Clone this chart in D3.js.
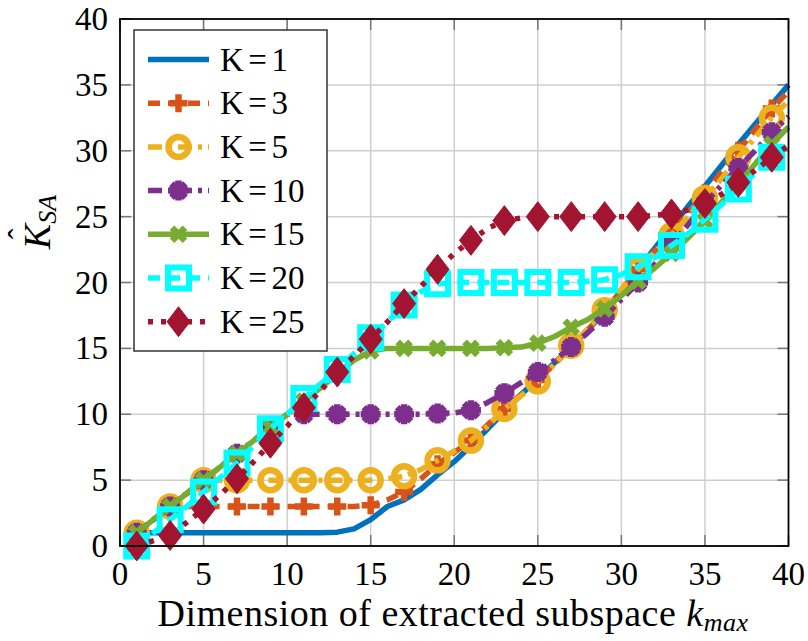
<!DOCTYPE html>
<html>
<head>
<meta charset="utf-8">
<script src="https://cdn.jsdelivr.net/npm/d3@7"></script>
</head>
<body style="margin:0">
<div id="chart"></div>
<script>
// data
const kmax = [1,2,3,4,5,6,7,8,9,10,11,12,13,14,15,16,17,18,19,20,
              21,22,23,24,25,26,27,28,29,30,31,32,33,34,35,36,37,38,39,40];

const k1  = [1,1,1,1,1,1,1,1,1,1,1,1,1.05,1.3,2.0,3.0,3.5,4.3,5.4,6.4,
             7.6,8.9,10.2,11.5,12.7,13.9,15.1,16.4,17.8,19.4,21.0,22.6,24.2,25.8,27.3,28.9,30.5,32.0,33.5,35.0];
const k3  = [1,2,3,3,3,3,3,3,3,3,3,3,3,3,3.1,3.5,4.1,5.1,6.2,7.1,
             8.0,9.2,10.4,11.5,12.6,13.8,15.1,16.4,17.8,19.4,21.0,22.4,23.8,25.3,26.8,28.4,30.0,31.6,33.2,34.5];
const k5  = [1,2,3,4,5,5,5,5,5,5,5,5,5,5,5,5.1,5.3,5.8,6.5,7.2,
             8.0,9.1,10.4,11.4,12.5,13.8,15.2,16.5,17.9,19.5,21.0,22.3,23.6,25.0,26.4,27.9,29.5,31.0,32.5,33.8];
const k10 = [1,2,3,4,5,6,7,8,9,10,10,10,10,10,10,10,10,10,10.05,10.1,
             10.3,10.9,11.6,12.4,13.2,14.1,15.1,16.2,17.4,18.7,20.0,21.4,22.9,24.4,26.0,27.4,28.7,30.0,31.4,32.6];
const k15 = [1,2,3,4,5,6,7,8,9,10,11,12,13.1,14.1,14.8,15,15,15,15,15,
             15,15,15.05,15.1,15.4,15.9,16.6,17.2,18.0,19.0,20.1,21.1,22.2,23.4,24.7,26.1,27.5,29.0,30.5,31.8];
const k20 = [0,1,2,3,4.1,5.2,6.3,7.6,8.9,10.0,11.2,12.3,13.4,14.6,15.8,17.0,18.3,19.3,19.9,20,
             20,20,20,20,20,20,20,20.1,20.2,20.6,21.2,21.9,22.8,23.7,24.8,25.9,27.1,28.3,29.5,30.7];
const k25 = [0,0.4,0.8,1.8,2.8,3.9,5.1,6.4,7.8,9.1,10.5,11.8,13.2,14.4,15.7,17.0,18.4,19.7,21.0,22.2,
             23.2,24.1,24.7,24.9,25,25,25,25,25,25,25,25.1,25.2,25.5,26.0,26.7,27.6,28.5,29.5,30.4];

const kValues = [1,3,5,10,15,20,25];   // legend labels read "K=<value>"
const xTicks = [0,5,10,15,20,25,30,35,40];
const yTicks = [0,5,10,15,20,25,30,35,40];

const series = [
  { k: kValues[0], values: k1,  color: "#0072BD", dash: null,          marker: "none" },
  { k: kValues[1], values: k3,  color: "#D95319", dash: "12,8",        marker: "plus" },
  { k: kValues[2], values: k5,  color: "#EDB120", dash: "14,6,4,6",    marker: "circle" },
  { k: kValues[3], values: k10, color: "#7E2F8E", dash: "14,6,4,6",    marker: "star" },
  { k: kValues[4], values: k15, color: "#77AC30", dash: null,          marker: "cross" },
  { k: kValues[5], values: k20, color: "#00FFFF", dash: "12,8",        marker: "square" },
  { k: kValues[6], values: k25, color: "#A2142F", dash: "5,8",         marker: "diamond" }
];

const W = 808, H = 641;
const svg = d3.select("#chart").append("svg")
    .attr("width", W).attr("height", H);

// every text goes through this so the serif face is set on the element itself
function addText(parent) {
  return parent.append("text").style("font-family", '"Liberation Serif"');
}

const x = d3.scaleLinear().domain([0, 40]).range([120, 788.5]);
const y = d3.scaleLinear().domain([0, 40]).range([546, 19]);

// grid
svg.selectAll(".gx").data(xTicks.slice(1, -1)).enter().append("line")
    .attr("x1", d => x(d)).attr("x2", d => x(d))
    .attr("y1", y(0)).attr("y2", y(40))
    .attr("stroke", "#cfcfcf").attr("stroke-width", 1.5);
svg.selectAll(".gy").data(yTicks.slice(1, -1)).enter().append("line")
    .attr("x1", x(0)).attr("x2", x(40))
    .attr("y1", d => y(d)).attr("y2", d => y(d))
    .attr("stroke", "#cfcfcf").attr("stroke-width", 1.5);

// inward ticks on all four sides
const tl = 11;
xTicks.forEach(t => {
  svg.append("line").attr("x1", x(t)).attr("x2", x(t)).attr("y1", y(0)).attr("y2", y(0) - tl)
     .attr("stroke", "#777").attr("stroke-width", 1.5);
  svg.append("line").attr("x1", x(t)).attr("x2", x(t)).attr("y1", y(40)).attr("y2", y(40) + tl)
     .attr("stroke", "#777").attr("stroke-width", 1.5);
});
yTicks.forEach(t => {
  svg.append("line").attr("x1", x(0)).attr("x2", x(0) + tl).attr("y1", y(t)).attr("y2", y(t))
     .attr("stroke", "#777").attr("stroke-width", 1.5);
  svg.append("line").attr("x1", x(40)).attr("x2", x(40) - tl).attr("y1", y(t)).attr("y2", y(t))
     .attr("stroke", "#777").attr("stroke-width", 1.5);
});

// tick labels
xTicks.forEach(t => {
  addText(svg).attr("x", x(t)).attr("y", 585)
      .attr("text-anchor", "middle").attr("font-size", 33).text(t);
});
yTicks.forEach(t => {
  addText(svg).attr("x", 108).attr("y", y(t) + 11)
      .attr("text-anchor", "end").attr("font-size", 33).text(t);
});

// marker shapes
function markerPath(type, s) {
  switch (type) {
    case "plus":   return `M${-s},0H${s}M0,${-s}V${s}`;
    case "cross":  { const a = s * 0.72; return `M${-a},${-a}L${a},${a}M${-a},${a}L${a},${-a}`; }
    case "star":   { const a = s * 0.7;
                     return `M${-s},0H${s}M0,${-s}V${s}M${-a},${-a}L${a},${a}M${-a},${a}L${a},${-a}`; }
    case "circle": return d3.arc()({ innerRadius: 0, outerRadius: s, startAngle: 0, endAngle: 2 * Math.PI });
    case "square": return `M${-s},${-s}H${s}V${s}H${-s}Z`;
    case "diamond":return `M0,${-s * 1.3}L${s},0L0,${s * 1.3}L${-s},0Z`;
  }
  return "";
}
const markerSize = { plus: 9, cross: 9, star: 10, circle: 10, square: 10.5, diamond: 11.5 };

function drawMarker(g, type, color, cx, cy) {
  if (type === "none") return;
  const p = g.append("path")
      .attr("d", markerPath(type, markerSize[type]))
      .attr("transform", `translate(${cx},${cy})`);
  if (type === "diamond") {
    p.attr("fill", color).attr("stroke", color).attr("stroke-width", 1);
  } else if (type === "circle") {
    p.attr("fill", "none").attr("stroke", color).attr("stroke-width", 6.5);
  } else if (type === "square") {
    p.attr("fill", "none").attr("stroke", color).attr("stroke-width", 6);
  } else {
    p.attr("fill", "none").attr("stroke", color).attr("stroke-width", 6.5)
     .attr("stroke-linecap", "butt");
  }
}

const line = d3.line().x((d, i) => x(kmax[i])).y(d => y(d));
const plot = svg.append("g");

series.forEach(s => {
  plot.append("path")
      .attr("d", line(s.values))
      .attr("fill", "none")
      .attr("stroke", s.color)
      .attr("stroke-width", 5.5)
      .attr("stroke-linejoin", "round")
      .attr("stroke-dasharray", s.dash);
  s.values.forEach((v, i) => {
    if (kmax[i] % 2 === 1) drawMarker(plot, s.marker, s.color, x(kmax[i]), y(v));
  });
});

// axes box
svg.append("rect")
    .attr("x", x(0)).attr("y", y(40))
    .attr("width", x(40) - x(0)).attr("height", y(0) - y(40))
    .attr("fill", "none").attr("stroke", "#000").attr("stroke-width", 1.8);

// legend
const lg = svg.append("g");
lg.append("rect")
    .attr("x", 134).attr("y", 30).attr("width", 193).attr("height", 321)
    .attr("fill", "#fff").attr("stroke", "#333").attr("stroke-width", 1.5);
series.forEach((s, i) => {
  const cy = 59.5 + i * 43.7;
  lg.append("line")
      .attr("x1", 148).attr("x2", 209).attr("y1", cy).attr("y2", cy)
      .attr("stroke", s.color).attr("stroke-width", 5.5)
      .attr("stroke-dasharray", s.dash);
  drawMarker(lg, s.marker, s.color, 178.5, cy);
  const t = addText(lg)
      .attr("x", 220).attr("y", cy + 11)
      .attr("font-size", 33);
  t.append("tspan").text("K");
  t.append("tspan").attr("dx", 4.5).text("=");
  t.append("tspan").attr("dx", 4.5).text(s.k);
});

// axis labels
const xl = addText(svg)
    .attr("x", 453).attr("y", 626)
    .attr("text-anchor", "middle").attr("font-size", 38).attr("letter-spacing", 0.5);
xl.append("tspan").text("Dimension of extracted subspace ");
xl.append("tspan").attr("font-style", "italic").text("k");
xl.append("tspan").attr("font-style", "italic").attr("font-size", 26).attr("dy", 5).text("max");

const yl = svg.append("g").attr("transform", "translate(50,222) rotate(-90)");
const ylt = addText(yl).attr("text-anchor", "middle").attr("font-size", 38);
ylt.append("tspan").attr("font-style", "italic").text("K");
ylt.append("tspan").attr("font-style", "italic").attr("font-size", 26).attr("dy", 6).text("SA");
addText(yl).attr("x", -12).attr("y", -20).attr("text-anchor", "middle")
    .attr("font-size", 32).text("\u02C6");
</script>
</body>
</html>
